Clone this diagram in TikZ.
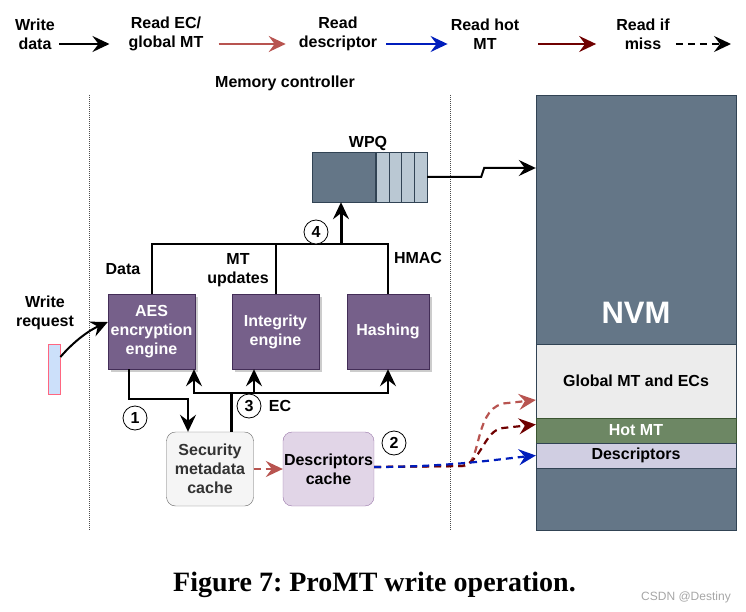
\documentclass[tikz,border=0pt]{standalone}
\usepackage{fontspec}
\setmainfont{Liberation Sans}
\newfontfamily\capfont{Liberation Serif}
\usepackage{xcolor}
\usetikzlibrary{arrows.meta, positioning, shadows}

\definecolor{nvmfill}{HTML}{647687}
\definecolor{nvmline}{HTML}{314354}
\definecolor{wpqcell}{HTML}{BAC8D3}
\definecolor{engfill}{HTML}{76608A}
\definecolor{engline}{HTML}{432D57}
\definecolor{readec}{HTML}{B85450}
\definecolor{readdesc}{HTML}{001DBC}
\definecolor{readhot}{HTML}{6F0000}
\definecolor{hotfill}{HTML}{6D8764}
\definecolor{hotline}{HTML}{3A5431}
\definecolor{descfill}{HTML}{D0CEE2}
\definecolor{descline}{HTML}{56517E}
\definecolor{dcfill}{HTML}{E1D5E7}
\definecolor{dcline}{HTML}{9673A6}
\definecolor{smfill}{HTML}{F5F5F5}
\definecolor{smline}{HTML}{666666}
\definecolor{reqfill}{HTML}{CCE0FA}
\definecolor{reqline}{HTML}{FF6680}

\newcommand{\lblfont}{\fontsize{16}{19}\selectfont\bfseries}

\begin{document}
\begin{tikzpicture}[
  x=1pt, y=-1pt,
  lbl/.style={font=\lblfont, align=center, inner sep=0pt},
  engine/.style={draw=engline, fill=engfill, text=white, font=\lblfont,
                 align=center, minimum height=75pt, inner sep=2pt,
                 drop shadow={shadow xshift=3pt, shadow yshift=-3pt,
                              fill=black, opacity=0.2}},
  cachebox/.style={draw, rounded corners=9pt, font=\lblfont, align=center,
                   minimum width=87pt, minimum height=74pt, inner sep=1pt},
  band/.style={draw=nvmline, minimum width=200pt, font=\lblfont, inner sep=0pt},
  num/.style={circle, draw, thick, minimum size=24pt, inner sep=0pt,
              font=\lblfont},
  headtip/.style={-{Stealth[length=17pt 0, width=16pt 0, inset=6pt 0]}},
  legarr/.style={headtip, line width=2pt},
  busarr/.style={headtip, line width=2pt},
  missarr/.style={headtip, dashed, dash pattern=on 7pt off 5pt, line width=2.2pt},
  sep/.style={densely dotted, line width=1pt, gray!60!black},
]
\useasboundingbox (0,0) rectangle (746,612);

% --- Legend ---
\coordinate (legy) at (0,44);
\node[lbl] (lg1) at (35,34)  {Write\\data};
\node[lbl] (lg2) at (166,34) {Read EC/\\global MT};
\node[lbl] (lg3) at (338,34) {Read\\descriptor};
\node[lbl] (lg4) at (485,34) {Read hot\\MT};
\node[lbl] (lg5) at (643,34) {Read if\\miss};
\coordinate (legend end) at (731,44);
\draw[legarr] ([xshift=4pt]lg1.east |- legy) -- ([xshift=-19pt]lg2.west |- legy);
\draw[legarr, readec] ([xshift=15pt]lg2.east |- legy) -- ([xshift=-13pt]lg3.west |- legy);
\draw[legarr, readdesc] ([xshift=9pt]lg3.east |- legy) -- ([xshift=-3pt]lg4.west |- legy);
\draw[legarr, readhot] ([xshift=19pt]lg4.east |- legy) -- ([xshift=-20pt]lg5.west |- legy);
\draw[missarr] ([xshift=6pt]lg5.east |- legy) -- (legend end);

% --- Memory controller region ---
\node[lbl] (mc) at (285,83) {Memory controller};
\draw[sep] (89,95) -- (89,530);
\draw[sep] (450,95) -- (450,530);

% --- WPQ ---
\node[lbl] (wpqlbl) at (368,143) {WPQ};
\node[draw=nvmline, fill=nvmfill, minimum width=63pt, minimum height=50pt,
      inner sep=0pt] (wpq) at (343.5,177) {};
\foreach \i in {1,...,4}
  \node[draw=nvmline, fill=wpqcell, minimum width=12.75pt, minimum height=50pt,
        inner sep=0pt] (wpq\i) at (369.6+12.75*\i,177) {};

% --- NVM ---
\node[draw=nvmline, fill=nvmfill, minimum width=200pt, minimum height=435pt,
      text=white, font=\fontsize{31}{34}\selectfont\bfseries] (nvm) at (636,312.5) {NVM};
\node[band, fill=gray!15, minimum height=74pt] (glob) at (636,381) {Global MT and ECs};
\node[band, fill=hotfill, draw=hotline, text=white, minimum height=25pt] (hot) at (636,430.5) {Hot MT};
\node[band, fill=descfill, minimum height=25pt] (desc) at (636,455.5) {Descriptors};

% --- Engines ---
\node[engine, minimum width=87pt] (aes)   at (151.5,331.5) {AES\\encryption\\engine};
\node[engine, minimum width=87pt] (integ) at (275.5,331.5) {Integrity\\engine};
\node[engine, minimum width=82pt] (hash)  at (388,331.5)   {Hashing};

% --- Caches ---
\node[cachebox, fill=smfill, draw=smline, text=black!80] (smc) at (210,469)
  {Security\\metadata\\cache};
\node[cachebox, fill=dcfill, draw=dcline] (dc) at (328.5,469) {Descriptors\\cache};

% --- Write request ---
\node[lbl] (wrlbl) at (45,313) {Write\\request};
\node[draw=reqline, fill=reqfill, thick, minimum width=12pt, minimum height=50pt,
      inner sep=0pt] (req) at (54,369) {};
\draw[legarr] ([yshift=12pt]req.east) .. controls (75,340) and (90,330) ..
  ([yshift=9.5pt]aes.west);

% --- Engines to WPQ ---
\coordinate (topbus) at (341,244);
\draw[line width=2pt] (aes.north) |- (hash.north |- topbus) -- (hash.north);
\draw[line width=2pt] (integ.north) -- (integ.north |- topbus);
\draw[busarr, line width=3pt] (topbus) -- (topbus |- wpq.south);
\node[num, fill=white] (n4) at (316,232) {4};
\node[lbl, anchor=center] (datalbl) at (123,269) {Data};
\node[lbl] (mtlbl) at (238,270) {MT\\updates};
\node[lbl] (hmaclbl) at (418,258) {HMAC};

% --- WPQ to NVM ---
\draw[legarr] (wpq4.east) -- ++(54,0) -- ++(3,-9) -- ([yshift=144.5pt]nvm.west);

% --- Step 1: AES to metadata cache ---
\coordinate (lowbus) at (0,399);
\draw[busarr] ([xshift=-22.5pt]aes.south) |- ([xshift=-22pt]smc.north |- lowbus)
  -- ([xshift=-22pt]smc.north);
\node[num] (n1) at (135,418) {1};

% --- Step 3: EC to engines ---
\coordinate (ecbus) at (231,393);
\draw[line width=3pt] ([xshift=21pt]smc.north) -- (ecbus);
\draw[busarr] (ecbus) -| ([xshift=42.5pt]aes.south);
\draw[busarr] (ecbus) -| ([xshift=-21.5pt]integ.south);
\draw[busarr] (ecbus) -| (hash.south);
\node[num] (n3) at (249,406) {3};
\node[lbl] (eclbl) at (280,406) {EC};

% --- Step 2: descriptors ---
\draw[missarr, readec] (smc.east) -- (dc.west);
\node[num] (n2) at (394,443) {2};
\draw[missarr, readec] ([yshift=2pt]dc.east) -- (465,466) .. controls (482,462) and (474,404) ..
  (508,403) -- ([yshift=-19pt]glob.west);
\draw[missarr, readhot] ([yshift=2pt]dc.east) -- (462,466) .. controls (482,462) and (484,430) ..
  (503,428) -- ([yshift=6pt]hot.west);
\draw[missarr, readdesc] ([yshift=2pt]dc.east) .. controls (450,467) and (500,459) ..
  (desc.west);

% --- Caption ---
\node[font=\capfont\fontsize{28}{30}\selectfont\bfseries\frenchspacing] (cap) at (374.5,585)
  {Figure 7: ProMT write operation.};
\node[font=\fontsize{12}{14}\selectfont, text=gray!70] (wm) at (686,597) {CSDN @Destiny};

\end{tikzpicture}
\end{document}
